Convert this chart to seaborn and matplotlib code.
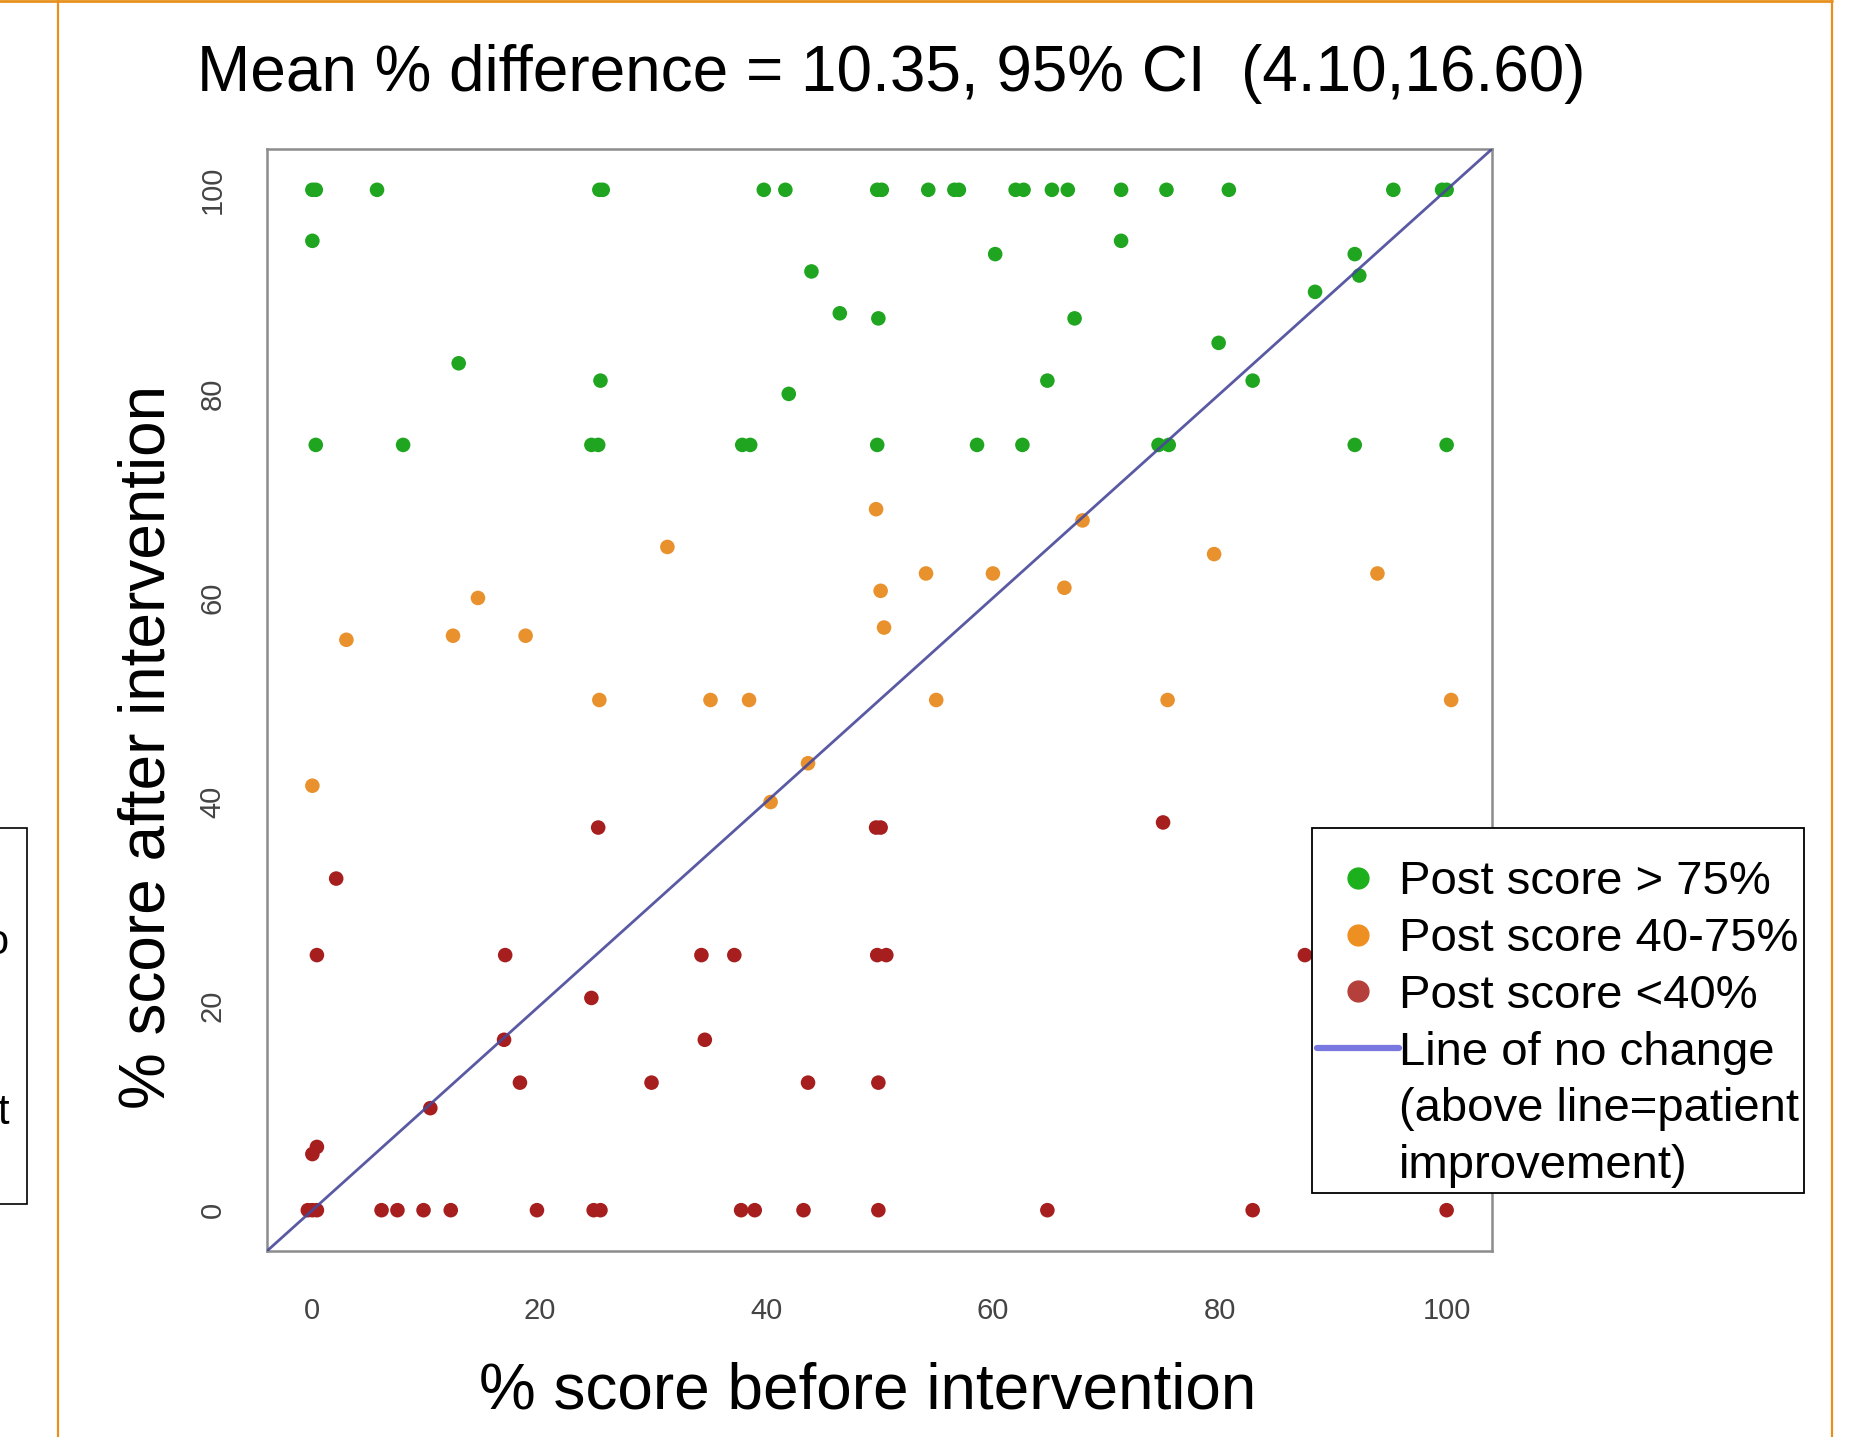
import pandas as pd
import seaborn as sns
import matplotlib.pyplot as plt
from matplotlib.lines import Line2D
from matplotlib.patches import Rectangle

# % score before / after intervention, split by post-score band
green_before = [0.0, 0.3, 5.7, 25.3, 25.6, 39.8, 41.7, 49.8, 50.2, 54.3, 56.6, 57.0,
                62.0, 62.7, 65.2, 66.6, 71.3, 75.3, 80.8, 95.3, 99.6, 100.0,
                0.0, 71.3, 60.2, 91.9, 44.0, 92.3, 88.4, 46.5, 49.9, 67.2, 79.9,
                12.9, 25.4, 64.8, 82.9, 42.0,
                0.3, 8.0, 24.6, 25.2, 37.9, 38.6, 49.8, 58.6, 62.6, 74.6, 75.5, 91.9, 100.0]
green_after = [100] * 22 + [95, 95, 93.7, 93.7, 92.0, 91.6, 90.0, 87.9, 87.4, 87.4, 85.0,
                            83.0, 81.3, 81.3, 81.3, 80.0] + [75] * 13

orange_before = [49.7, 67.9, 31.3, 79.5, 54.1, 60.0, 93.9, 66.3, 50.1, 14.6, 50.4, 12.4,
                 18.8, 3.0, 25.3, 35.1, 38.5, 55.0, 75.4, 100.4, 43.7, 0.0, 40.4]
orange_after = [68.7, 67.6, 65.0, 64.3, 62.4, 62.4, 62.4, 61.0, 60.7, 60.0, 57.1, 56.3,
                56.3, 55.9, 50, 50, 50, 50, 50, 50, 43.8, 41.6, 40.0]

red_before = [25.2, 49.7, 50.1, 75.0, 2.1, 0.4, 17.0, 34.3, 37.2, 49.8, 50.6, 87.5,
              24.6, 16.9, 34.6, 18.3, 29.9, 43.7, 49.9, 10.4, 0.0, 0.4,
              -0.4, 0.0, 0.4, 6.1, 7.5, 9.8, 12.2, 19.8, 24.8, 25.4, 37.8, 39.0,
              43.3, 49.9, 64.8, 82.9, 100.0]
red_after = [37.5, 37.5, 37.5, 38.0, 32.5, 25, 25, 25, 25, 25, 25, 25,
             20.8, 16.7, 16.7, 12.5, 12.5, 12.5, 12.5, 10.0, 5.5, 6.2] + [0] * 17

bands = ["Post score > 75%", "Post score 40-75%", "Post score <40%"]
line_label = ["Line of no change", "(above line=patient", "improvement)"]
title = "Mean % difference = 10.35, 95% CI  (4.10,16.60)"
ticks = [0, 20, 40, 60, 80, 100]

point_colors = ["#1fa51f", "#e8912d", "#a61e1e"]
legend_colors = ["#1db01d", "#ee8f22", "#b5403b"]

df = pd.concat([
    pd.DataFrame({"before": green_before, "after": green_after, "band": bands[0]}),
    pd.DataFrame({"before": orange_before, "after": orange_after, "band": bands[1]}),
    pd.DataFrame({"before": red_before, "after": red_after, "band": bands[2]}),
])

sns.set_style("white")
plt.rcParams["font.family"] = ["Liberation Sans", "DejaVu Sans"]
plt.rcParams["text.color"] = "black"
plt.rcParams["axes.labelcolor"] = "black"

fig = plt.figure(figsize=(18.6, 14.37), dpi=100)
ax = fig.add_axes([267 / 1860, 1 - 1251 / 1437, 1225 / 1860, 1102 / 1437])

sns.scatterplot(data=df, x="before", y="after", hue="band", hue_order=bands,
                palette=point_colors, s=110, linewidth=0, legend=False, ax=ax, zorder=2)
ax.axline((0, 0), slope=1, color="#48489a", lw=2.0, alpha=0.9, zorder=3)

ax.set_xlim(-4, 104)
ax.set_ylim(-4, 104)
ax.set_xticks(ticks, labels=[str(t) for t in ticks])
ax.set_yticks(ticks, labels=[str(t) for t in ticks], rotation=90, va="center")
ax.tick_params(length=11, width=1.5, color="#8c8c8c", labelcolor="#444444",
               labelsize=21, pad=18)
ax.tick_params(axis="x", pad=22)
for sp in ax.spines.values():
    sp.set_color("#8c8c8c")
    sp.set_linewidth(1.8)

ax.set_xlabel("% score before intervention", fontsize=46)
ax.set_ylabel("% score after intervention", fontsize=46)
ax.xaxis.set_label_coords(0.4906, -0.1003)
ax.yaxis.set_label_coords(-0.073, 0.457)

fig.text(0.479, 1 - 74 / 1437, title, ha="center", va="center", fontsize=46)

handles = [Line2D([], [], ls="none", marker="o", ms=15, color=c) for c in legend_colors]
handles += [Line2D([], [], color="#7878e0", lw=4.5),
            Line2D([], [], ls="none"), Line2D([], [], ls="none")]
# a blank title gives the extra room above the first entry
leg = fig.legend(handles, bands + line_label, loc="upper left",
                 bbox_to_anchor=(1312 / 1860, 1 - 828 / 1437), frameon=True,
                 fancybox=False, edgecolor="black", framealpha=1, fontsize=34,
                 title=" ", title_fontsize=12,
                 handlelength=1.75, handletextpad=0.0, borderpad=0.1,
                 labelspacing=0.27, borderaxespad=0)
leg.get_frame().set_linewidth(1.3)

# slide frame around the picture
frame = "#e8901e"
fig.add_artist(Line2D([0, 0.985], [0.999, 0.999], color=frame, lw=2, transform=fig.transFigure))
fig.add_artist(Line2D([58 / 1860] * 2, [0, 1], color=frame, lw=1.6, transform=fig.transFigure))
fig.add_artist(Line2D([0.985] * 2, [0, 1], color=frame, lw=1.6, transform=fig.transFigure))
fig.add_artist(Rectangle((-0.01, 1 - 1204 / 1437), 27 / 1860 + 0.01, 376 / 1437,
                         fill=False, ec="black", lw=1.2, transform=fig.transFigure))
fig.text(8 / 1860, 1 - 943 / 1437, "o", ha="right", va="center", fontsize=30)
fig.text(9 / 1860, 1 - 1113 / 1437, "t", ha="right", va="center", fontsize=30)

fig.savefig("out.png", dpi=100)
